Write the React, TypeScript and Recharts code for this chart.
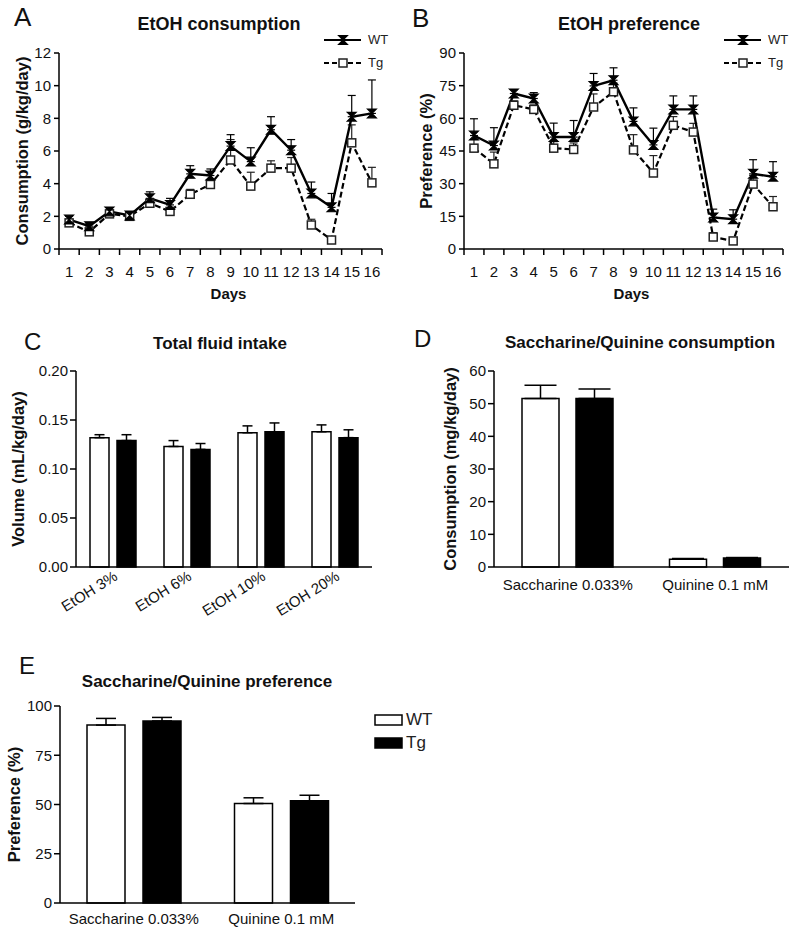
import React from "react";
import { LineChart, Line, BarChart, Bar, XAxis, YAxis, ErrorBar, Legend } from "recharts";

const FONT = '"Liberation Sans", Arial, Helvetica, sans-serif';
const INK = "#111";

// A + B: 16 drinking days
const days = [1, 2, 3, 4, 5, 6, 7, 8, 9, 10, 11, 12, 13, 14, 15, 16];
const wtConsumption = [1.8, 1.4, 2.3, 2.05, 3.1, 2.7, 4.6, 4.5, 6.3, 5.35, 7.3, 6.05, 3.4, 2.55, 8.1, 8.3];
const wtConsumptionSem = [0.2, 0.15, 0.1, 0.1, 0.4, 0.4, 0.5, 0.4, 0.7, 0.85, 0.8, 0.65, 0.7, 0.85, 1.3, 2.05];
const tgConsumption = [1.6, 1.05, 2.15, 2.0, 2.8, 2.3, 3.35, 3.95, 5.45, 3.85, 4.95, 4.95, 1.47, 0.55, 6.5, 4.05];
const tgConsumptionSem = [0.1, 0.1, 0.1, 0.1, 0.2, 0.2, 0.3, 0.25, 1.25, 0.85, 0.45, 0.65, 0.35, 0.1, 1.1, 0.95];

const wtPreference = [52.1, 47.5, 71.4, 69.1, 51.4, 51.4, 74.9, 77.5, 58.6, 47.8, 64.1, 64.1, 14.5, 13.7, 34.5, 33.2];
const wtPreferenceSem = [7.7, 8.2, 1.8, 2.7, 6.4, 7.6, 5.7, 5.7, 6.2, 7.7, 6.2, 6.2, 3.8, 4.3, 6.5, 6.9];
const tgPreference = [46.3, 39.1, 66, 64.1, 46.3, 45.7, 65.2, 72.2, 45.5, 34.9, 56.8, 53.7, 5.5, 3.7, 29.8, 19.4];
const tgPreferenceSem = [4, 5.4, 2, 2, 3, 3, 6, 4, 7, 8, 4, 4, 2, 1.5, 4, 4.7];

const consumptionTicks = [0, 2, 4, 6, 8, 10, 12];
const preferenceTicks = [0, 15, 30, 45, 60, 75, 90];

// C: total fluid intake
const ethanolSteps = ["EtOH 3%", "EtOH 6%", "EtOH 10%", "EtOH 20%"];
const wtFluid = [0.132, 0.123, 0.137, 0.138];
const wtFluidSem = [0.003, 0.006, 0.007, 0.007];
const tgFluid = [0.129, 0.12, 0.138, 0.132];
const tgFluidSem = [0.006, 0.006, 0.009, 0.008];
const fluidTicks = [0, 0.05, 0.1, 0.15, 0.2];

// D + E: saccharine / quinine
const tastants = ["Saccharine 0.033%", "Quinine 0.1 mM"];
const wtTasteCons = [51.6, 2.4];
const wtTasteConsSem = [4.0, 0.2];
const tgTasteCons = [51.6, 2.75];
const tgTasteConsSem = [2.9, 0.15];
const tasteConsTicks = [0, 10, 20, 30, 40, 50, 60];

const wtTastePref = [90.3, 50.5];
const wtTastePrefSem = [3.4, 2.9];
const tgTastePref = [92.4, 51.9];
const tgTastePrefSem = [1.8, 2.8];
const tastePrefTicks = [0, 25, 50, 75, 100];

const rowsOf = (labels: any[], key: string, wt: number[], wtSem: number[], tg: number[], tgSem: number[]) =>
  labels.map((l, i) => ({
    [key]: l,
    wt: wt[i],
    wtErr: [0, wtSem[i]],
    tg: tg[i],
    tgErr: [0, tgSem[i]],
  }));

const consRows = rowsOf(days, "day", wtConsumption, wtConsumptionSem, tgConsumption, tgConsumptionSem);
const prefRows = rowsOf(days, "day", wtPreference, wtPreferenceSem, tgPreference, tgPreferenceSem);
const fluidRows = rowsOf(ethanolSteps, "name", wtFluid, wtFluidSem, tgFluid, tgFluidSem);
const tasteConsRows = rowsOf(tastants, "name", wtTasteCons, wtTasteConsSem, tgTasteCons, tgTasteConsSem);
const tastePrefRows = rowsOf(tastants, "name", wtTastePref, wtTastePrefSem, tgTastePref, tgTastePrefSem);

// ticks at day centres (labels) and half days (tick marks)
const dayTicks = days.flatMap((d) => [d - 0.5, d]).concat(days[days.length - 1] + 0.5);

function WtMark({ cx, cy }: { cx: number; cy: number }) {
  const s = 4.4;
  return (
    <path
      d={`M${cx - s},${cy - s}L${cx + s},${cy - s}L${cx - s},${cy + s}L${cx + s},${cy + s}Z`}
      fill="#000"
      stroke="#000"
      strokeWidth={1.2}
    />
  );
}

function TgMark({ cx, cy }: { cx: number; cy: number }) {
  return <rect x={cx - 4} y={cy - 4} width={8} height={8} fill="#fff" stroke="#222" strokeWidth={1.5} />;
}

const wtDot = (p: any) => <WtMark key={`w${p.index}`} cx={p.cx} cy={p.cy} />;
const tgDot = (p: any) => <TgMark key={`t${p.index}`} cx={p.cx} cy={p.cy} />;

function DayTick(props: any) {
  const { x, y, payload } = props;
  const v = payload.value;
  if (Number.isInteger(v)) {
    return (
      <text x={x} y={y + 28} textAnchor="middle" fontSize={15} fill={INK}>
        {v}
      </text>
    );
  }
  return <line x1={x} x2={x} y1={y} y2={y + 6} stroke="#000" strokeWidth={1.5} />;
}

const yTitle = (text: string, x: number, size = 16.5) => (props: any) => {
  const vb = props.viewBox || {};
  const cy = vb.y + vb.height / 2;
  return (
    <text
      x={x}
      y={cy}
      transform={`rotate(-90, ${x}, ${cy})`}
      textAnchor="middle"
      dominantBaseline="central"
      fontWeight="bold"
      fontSize={size}
      fill={INK}
    >
      {text}
    </text>
  );
};

const daysTitle = (props: any) => {
  const vb = props.viewBox || {};
  return (
    <text x={vb.x + vb.width / 2 + 8} y={vb.y + 50} textAnchor="middle" fontWeight="bold" fontSize={15} fill={INK}>
      Days
    </text>
  );
};

function LineKey({ payload, rowH }: any) {
  const items = ["WT", "Tg"].map((n) => (payload || []).find((p: any) => p.value === n)).filter(Boolean);
  return (
    <div style={{ fontSize: 13, color: "#222", fontFamily: FONT }}>
      {items.map((it: any) => (
        <div key={it.value} style={{ display: "flex", alignItems: "center", height: rowH }}>
          <svg width={40} height={12}>
            <line
              x1={1}
              x2={38}
              y1={6}
              y2={6}
              stroke="#000"
              strokeWidth={2.2}
              strokeDasharray={it.value === "Tg" ? "5 3" : undefined}
            />
            {it.value === "WT" ? <WtMark cx={20} cy={6} /> : <TgMark cx={20} cy={6} />}
          </svg>
          <span style={{ marginLeft: 5 }}>{it.value}</span>
        </div>
      ))}
    </div>
  );
}

function BarKey({ payload }: any) {
  const items = ["WT", "Tg"].map((n) => (payload || []).find((p: any) => p.value === n)).filter(Boolean);
  return (
    <div style={{ fontSize: 17, color: "#222", fontFamily: FONT }}>
      {items.map((it: any) => (
        <div key={it.value} style={{ display: "flex", alignItems: "center", height: 23 }}>
          <svg width={30} height={12}>
            <rect x={1} y={1} width={27} height={10} fill={it.value === "WT" ? "#fff" : "#000"} stroke="#000" strokeWidth={1.5} />
          </svg>
          <span style={{ marginLeft: 2 }}>{it.value}</span>
        </div>
      ))}
    </div>
  );
}

const axisStroke = { stroke: "#000", strokeWidth: 1.5 };
const tickFont = { fontSize: 15, fill: INK };

function DayLines({ data, ticks, max, yLabel, yLabelX, yWidth, right }: any) {
  return (
    <LineChart width={400} height={310} data={data} margin={{ top: 53, right, bottom: 0, left: 0 }}>
      <XAxis
        dataKey="day"
        type="number"
        domain={[0.5, 16.5]}
        ticks={dayTicks}
        interval={0}
        tickSize={0}
        tickMargin={0}
        tickLine={false}
        axisLine={axisStroke}
        tick={(p: any) => <DayTick {...p} />}
        height={310 - 53 - 196}
        label={daysTitle}
      />
      <YAxis
        domain={[0, max]}
        ticks={ticks}
        interval={0}
        width={yWidth}
        tickSize={5}
        tickMargin={3}
        tickLine={axisStroke}
        axisLine={axisStroke}
        tick={tickFont}
        label={yTitle(yLabel, yLabelX)}
      />
      <Legend
        layout="vertical"
        align="center"
        verticalAlign="middle"
        wrapperStyle={{ left: 323, top: 28, width: 70 }}
        content={(p: any) => <LineKey {...p} rowH={23} />}
      />
      <Line
        name="Tg"
        dataKey="tg"
        stroke="#000"
        strokeWidth={2.2}
        strokeDasharray="6 3"
        dot={tgDot}
        activeDot={false}
        isAnimationActive={false}
      >
        <ErrorBar dataKey="tgErr" direction="y" width={4} stroke="#222" strokeWidth={1.2} isAnimationActive={false} />
      </Line>
      <Line
        name="WT"
        dataKey="wt"
        stroke="#000"
        strokeWidth={2.4}
        dot={wtDot}
        activeDot={false}
        isAnimationActive={false}
      >
        <ErrorBar dataKey="wtErr" direction="y" width={4} stroke="#000" strokeWidth={1.2} isAnimationActive={false} />
      </Line>
    </LineChart>
  );
}

function GroupBars(props: any) {
  const {
    data, width, height, margin, yWidth, xHeight, max, ticks, fmt, yLabel, yLabelX,
    barSize, barGap, cap, xTick, angle, tickMargin, legend,
  } = props;
  return (
    <BarChart width={width} height={height} data={data} margin={margin} barGap={barGap}>
      <XAxis
        dataKey="name"
        interval={0}
        tickLine={false}
        tickSize={0}
        tickMargin={tickMargin}
        axisLine={axisStroke}
        height={xHeight}
        angle={angle}
        textAnchor={angle ? "end" : "middle"}
        tick={{ fontSize: xTick, fill: INK }}
      />
      <YAxis
        domain={[0, max]}
        ticks={ticks}
        interval={0}
        width={yWidth}
        tickSize={6}
        tickMargin={2}
        tickLine={axisStroke}
        axisLine={axisStroke}
        tick={tickFont}
        tickFormatter={fmt}
        label={yTitle(yLabel, yLabelX)}
      />
      {legend}
      <Bar name="WT" dataKey="wt" fill="#fff" stroke="#000" strokeWidth={1.5} barSize={barSize} isAnimationActive={false}>
        <ErrorBar dataKey="wtErr" direction="y" width={cap} stroke="#000" strokeWidth={1.5} isAnimationActive={false} />
      </Bar>
      <Bar name="Tg" dataKey="tg" fill="#000" stroke="#000" strokeWidth={1.5} barSize={barSize} isAnimationActive={false}>
        <ErrorBar dataKey="tgErr" direction="y" width={cap} stroke="#000" strokeWidth={1.5} isAnimationActive={false} />
      </Bar>
    </BarChart>
  );
}

export default function App() {
  return (
    <div style={{ position: "absolute", left: 0, top: 0, width: 800, height: 931, background: "#fff", fontFamily: FONT }}>
      <div style={{ position: "absolute", left: 0, top: 0 }}>
        <DayLines
          data={consRows}
          ticks={consumptionTicks}
          max={12}
          yLabel="Consumption (g/kg/day)"
          yLabelX={22}
          yWidth={59}
          right={18}
        />
      </div>
      <div style={{ position: "absolute", left: 400, top: 0 }}>
        <DayLines
          data={prefRows}
          ticks={preferenceTicks}
          max={90}
          yLabel="Preference (%)"
          yLabelX={26}
          yWidth={64}
          right={17}
        />
      </div>
      <div style={{ position: "absolute", left: 0, top: 310 }}>
        <GroupBars
          data={fluidRows}
          width={400}
          height={320}
          margin={{ top: 61, right: 28, bottom: 0, left: 0 }}
          yWidth={76}
          xHeight={63}
          max={0.2}
          ticks={fluidTicks}
          fmt={(v: number) => v.toFixed(2)}
          yLabel="Volume (mL/kg/day)"
          yLabelX={18}
          barSize={19}
          barGap={8}
          cap={5}
          xTick={15}
          angle={-32}
          tickMargin={3}
        />
      </div>
      <div style={{ position: "absolute", left: 400, top: 310 }}>
        <GroupBars
          data={tasteConsRows}
          width={400}
          height={300}
          margin={{ top: 61, right: 11, bottom: 0, left: 0 }}
          yWidth={94}
          xHeight={43}
          max={60}
          ticks={tasteConsTicks}
          yLabel="Consumption (mg/kg/day)"
          yLabelX={50}
          barSize={37}
          barGap={17}
          cap={16}
          xTick={15}
          tickMargin={12}
        />
      </div>
      <div style={{ position: "absolute", left: 0, top: 630 }}>
        <GroupBars
          data={tastePrefRows}
          width={480}
          height={301}
          margin={{ top: 76, right: 125, bottom: 0, left: 0 }}
          yWidth={60}
          xHeight={28}
          max={100}
          ticks={tastePrefTicks}
          yLabel="Preference (%)"
          yLabelX={14}
          barSize={38}
          barGap={18}
          cap={10}
          xTick={15}
          tickMargin={10}
          legend={
            <Legend
              layout="vertical"
              align="center"
              verticalAlign="middle"
              wrapperStyle={{ left: 374, top: 78, width: 80 }}
              content={(p: any) => <BarKey {...p} />}
            />
          }
        />
      </div>
      <svg
        width={800}
        height={931}
        style={{ position: "absolute", left: 0, top: 0, pointerEvents: "none" }}
        fontFamily={FONT}
        fill={INK}
      >
        <text x={14} y={26} fontSize={26}>A</text>
        <text x={412} y={27} fontSize={26}>B</text>
        <text x={24} y={350} fontSize={24}>C</text>
        <text x={414} y={347} fontSize={24}>D</text>
        <text x={19} y={674} fontSize={24}>E</text>
        <text x={219} y={30} fontSize={18} fontWeight="bold" textAnchor="middle">EtOH consumption</text>
        <text x={629} y={30} fontSize={18} fontWeight="bold" textAnchor="middle">EtOH preference</text>
        <text x={220} y={349} fontSize={17} fontWeight="bold" textAnchor="middle">Total fluid intake</text>
        <text x={640} y={348} fontSize={17} fontWeight="bold" textAnchor="middle">Saccharine/Quinine consumption</text>
        <text x={207} y={687} fontSize={17} fontWeight="bold" textAnchor="middle">Saccharine/Quinine preference</text>
      </svg>
    </div>
  );
}
